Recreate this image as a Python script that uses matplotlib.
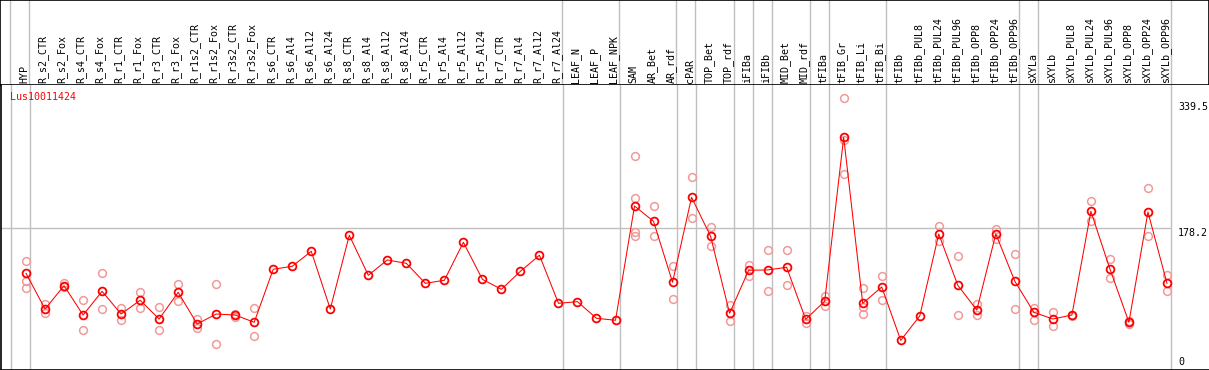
import numpy as np
import matplotlib
matplotlib.use("Agg")
import matplotlib.pyplot as plt

plt.rcParams['font.family'] = ['DejaVu Sans Mono']

gene = "Lus10011424"

samples = ["HYP", "R_s2_CTR", "R_s2_Fox", "R_s4_CTR", "R_s4_Fox", "R_r1_CTR", "R_r1_Fox",
           "R_r3_CTR", "R_r3_Fox", "R_r1s2_CTR", "R_r1s2_Fox", "R_r3s2_CTR", "R_r3s2_Fox",
           "R_s6_CTR", "R_s6_Al4", "R_s6_Al12", "R_s6_Al24", "R_s8_CTR", "R_s8_Al4",
           "R_s8_Al12", "R_s8_Al24", "R_r5_CTR", "R_r5_Al4", "R_r5_Al12", "R_r5_Al24",
           "R_r7_CTR", "R_r7_Al4", "R_r7_Al12", "R_r7_Al24", "LEAF_N", "LEAF_P", "LEAF_NPK",
           "SAM", "AR_Bet", "AR_rdf", "cPAR", "TOP_Bet", "TOP_rdf", "iFIBa", "iFIBb",
           "MID_Bet", "MID_rdf", "tFIBa", "tFIB_Gr", "tFIB_Li", "tFIB_Bi", "tFIBb",
           "tFIBb_PUL8", "tFIBb_PUL24", "tFIBb_PUL96", "tFIBb_OPP8", "tFIBb_OPP24",
           "tFIBb_OPP96", "sXYLa", "sXYLb", "sXYLb_PUL8", "sXYLb_PUL24", "sXYLb_PUL96",
           "sXYLb_OPP8", "sXYLb_OPP24", "sXYLb_OPP96"]

# mean expression per sample
means = [120.2, 74.5, 104.4, 66.8, 97.2, 68.1, 85.7, 61.7, 95.9, 55.3, 68.1, 66.8, 57.5,
         125.4, 129.2, 148.4, 74.5, 168.9, 117.7, 137.3, 133.0, 107.4, 111.3, 159.9, 112.5,
         99.7, 122.8, 143.3, 81.8, 83.9, 62.6, 60.1,
         206.4, 186.8, 108.7, 217.5, 167.6, 69.0, 124.1, 124.5, 127.9, 61.3,
         84.4, 294.4, 81.8, 102.7, 34.4, 65.6, 170.6, 104.9, 73.2, 170.6, 110.0,
         70.3, 61.7, 66.8, 199.6, 125.7, 57.5, 198.7, 107.4]

# individual replicates
reps = [[136.0, 110.4, 101.0], [80.5, 69.0], [107.8, 103.1], [85.7, 47.6], [120.2, 74.1],
        [75.8, 60.8], [95.9, 75.4], [77.1, 47.2], [106.1, 84.4], [61.7, 49.8],
        [106.1, 29.3], [67.7, 63.9], [75.4, 39.6],
        [], [], [], [], [], [], [], [], [], [], [], [], [], [], [], [], [], [], [],
        [270.0, 216.3, 172.7, 167.6], [206.0, 167.6], [130.0, 86.9], [243.1, 190.7],
        [179.1, 155.2], [79.6, 58.8], [130.9, 117.2], [150.1, 97.2], [150.1, 104.9],
        [65.6, 57.0], [91.5, 78.0], [344.3, 290.9, 247.4], [101.4, 77.5, 67.7],
        [116.4, 85.7], [], [], [180.4, 161.2], [142.0, 66.8], [80.5, 66.5],
        [177.0, 164.5], [144.6, 74.5], [75.8, 60.1], [70.3, 52.4], [65.9],
        [212.8, 187.6], [138.5, 114.2], [59.2, 55.7], [229.1, 167.6], [118.1, 97.2]]

# index of last sample in each group (-1 = left edge)
group_ends = [-1, 0, 28, 31, 34, 35, 37, 38, 39, 41, 42, 45, 52, 53, 60]

y_max = 339.5
y_mid = 178.2

W, H = 1209, 370
fig = plt.figure(figsize=(W / 100, H / 100), dpi=100)

x = np.arange(len(samples))
xlim = ((1 - 26) / 19, (1208 - 26) / 19)
sep = 4.3 / 19

# header with sample names
axh = fig.add_axes([0, (H - 85) / H, 1, 85 / H])
axh.set_xlim(xlim)
axh.set_ylim(0, 85)
axh.set_xticks([])
axh.set_yticks([])
for s in axh.spines.values():
    s.set_linewidth(1.2)
for e in group_ends:
    axh.axvline(e + sep, color="#c0c0c0", lw=1.0)
for i, name in enumerate(samples):
    axh.text(i - 0.06, 2, name, rotation=90, ha="center", va="bottom",
             fontsize=7.2, color="black")

# main plot
ax = fig.add_axes([1 / W, 0.5 / H, (W - 1) / W, 284.5 / H])
ax.set_xlim(xlim)
ax.set_ylim((367.2 - 369.5) / 0.781, (367.2 - 85) / 0.781)
ax.set_xticks([])
ax.set_yticks([])
ax.spines["top"].set_visible(False)
ax.spines["right"].set_visible(False)
ax.spines["left"].set_linewidth(1.2)
ax.spines["bottom"].set_linewidth(1.2)

for e in group_ends:
    ax.axvline(e + sep, color="#c0c0c0", lw=1.0, zorder=1)
ax.hlines(y_mid, xlim[0], group_ends[-1] + sep, color="#c0c0c0", lw=1.0, zorder=1)

for i, r in enumerate(reps):
    if r:
        ax.plot([i] * len(r), r, linestyle="none", marker="o", ms=5.6, mfc="none",
                mec="#f09a9a", mew=1.1, zorder=2)

ax.plot(x, means, color="red", lw=0.75, zorder=3)
ax.plot(x, means, linestyle="none", marker="o", ms=5.6, mfc="none", mec="red",
        mew=1.3, zorder=4)

ax.text(9 / W, 1 - 12 / 284.5, gene, transform=ax.transAxes, color="red",
        fontsize=7.2, ha="left", va="center")

tx = (1178 - 1) / (W - 1)
lab_tr = matplotlib.transforms.blended_transform_factory(ax.transAxes, ax.transData)
ax.text(tx, y_max, f"{y_max}", transform=lab_tr, fontsize=7.2, ha="left", va="top")
ax.text(tx, y_mid, f"{y_mid}", transform=lab_tr, fontsize=7.2, ha="left", va="top")
ax.text(tx, 0, "0", transform=lab_tr, fontsize=7.2, ha="left", va="bottom")

fig.savefig("out.png", dpi=100)
